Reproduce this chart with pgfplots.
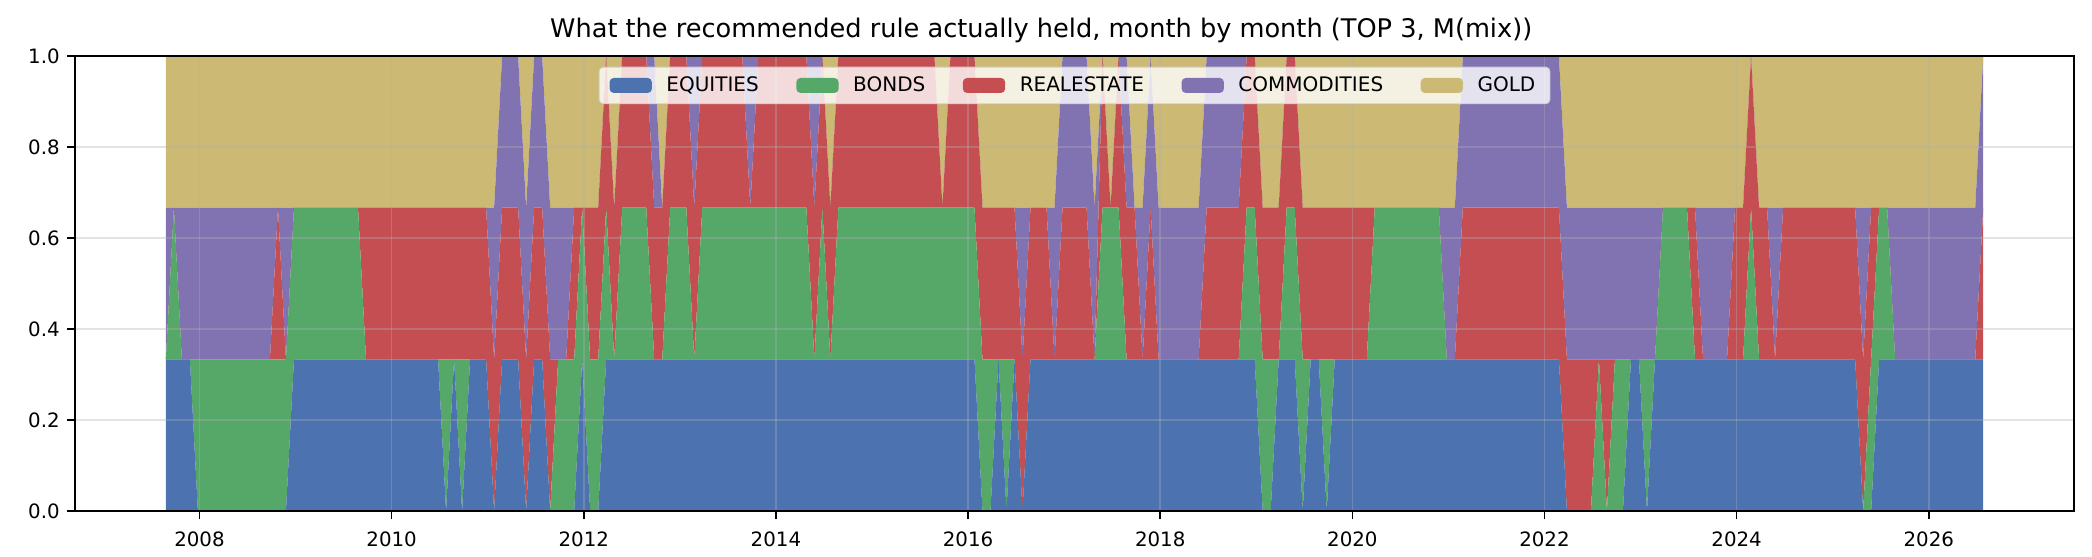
\documentclass[border=0pt]{standalone}
\usepackage{fontspec}
\setmainfont{DejaVu Sans}
\usepackage{pgfplots}
\usepackage{pgfplotstable}
\pgfplotsset{compat=1.18}
\definecolor{cE}{HTML}{4C72B0}
\definecolor{cB}{HTML}{55A868}
\definecolor{cR}{HTML}{C44E52}
\definecolor{cC}{HTML}{8172B2}
\definecolor{cG}{HTML}{CCB974}
\definecolor{gridc}{HTML}{B0B0B0}
% month index k (0 = Aug 2007), weights of each asset (1/3 when held)
\pgfplotstableread{
k E B R C G
0 0.3333 0 0 0.3333 0.3333
1 0.3333 0.3333 0 0 0.3333
2 0.3333 0 0 0.3333 0.3333
3 0.3333 0 0 0.3333 0.3333
4 0 0.3333 0 0.3333 0.3333
13 0 0.3333 0 0.3333 0.3333
14 0 0.3333 0.3333 0 0.3333
15 0 0.3333 0 0.3333 0.3333
16 0.3333 0.3333 0 0 0.3333
24 0.3333 0.3333 0 0 0.3333
25 0.3333 0 0.3333 0 0.3333
34 0.3333 0 0.3333 0 0.3333
35 0 0.3333 0.3333 0 0.3333
36 0.3333 0 0.3333 0 0.3333
37 0 0.3333 0.3333 0 0.3333
38 0.3333 0 0.3333 0 0.3333
40 0.3333 0 0.3333 0 0.3333
41 0 0 0.3333 0.3333 0.3333
42 0.3333 0 0.3333 0.3333 0
44 0.3333 0 0.3333 0.3333 0
45 0 0 0.3333 0.3333 0.3333
46 0.3333 0 0.3333 0.3333 0
47 0.3333 0 0.3333 0.3333 0
48 0 0 0.3333 0.3333 0.3333
49 0 0.3333 0 0.3333 0.3333
50 0 0.3333 0 0.3333 0.3333
51 0 0.3333 0.3333 0 0.3333
52 0.3333 0.3333 0 0 0.3333
53 0 0.3333 0.3333 0 0.3333
54 0 0.3333 0.3333 0 0.3333
55 0.3333 0.3333 0.3333 0 0
56 0.3333 0 0.3333 0 0.3333
57 0.3333 0.3333 0.3333 0 0
60 0.3333 0.3333 0.3333 0 0
61 0.3333 0 0.3333 0.3333 0
62 0.3333 0 0.3333 0 0.3333
63 0.3333 0.3333 0.3333 0 0
65 0.3333 0.3333 0.3333 0 0
66 0.3333 0 0.3333 0.3333 0
67 0.3333 0.3333 0.3333 0 0
72 0.3333 0.3333 0.3333 0 0
73 0.3333 0.3333 0 0.3333 0
74 0.3333 0.3333 0.3333 0 0
80 0.3333 0.3333 0.3333 0 0
81 0.3333 0 0.3333 0.3333 0
82 0.3333 0.3333 0.3333 0 0
83 0.3333 0 0.3333 0 0.3333
84 0.3333 0.3333 0.3333 0 0
96 0.3333 0.3333 0.3333 0 0
97 0.3333 0.3333 0 0 0.3333
98 0.3333 0.3333 0.3333 0 0
101 0.3333 0.3333 0.3333 0 0
102 0 0.3333 0.3333 0 0.3333
103 0 0.3333 0.3333 0 0.3333
104 0.3333 0 0.3333 0 0.3333
105 0 0.3333 0.3333 0 0.3333
106 0.3333 0 0.3333 0 0.3333
107 0 0 0.3333 0.3333 0.3333
108 0.3333 0 0.3333 0 0.3333
110 0.3333 0 0.3333 0 0.3333
111 0.3333 0 0 0.3333 0.3333
112 0.3333 0 0.3333 0.3333 0
115 0.3333 0 0.3333 0.3333 0
116 0.3333 0 0 0.3333 0.3333
117 0.3333 0.3333 0.3333 0 0
118 0.3333 0.3333 0 0 0.3333
119 0.3333 0.3333 0.3333 0 0
120 0.3333 0 0.3333 0.3333 0
121 0.3333 0 0.3333 0 0.3333
122 0.3333 0 0 0.3333 0.3333
123 0.3333 0 0.3333 0.3333 0
124 0.3333 0 0 0.3333 0.3333
129 0.3333 0 0 0.3333 0.3333
130 0.3333 0 0.3333 0.3333 0
134 0.3333 0 0.3333 0.3333 0
135 0.3333 0.3333 0.3333 0 0
136 0.3333 0.3333 0.3333 0 0
137 0 0.3333 0.3333 0 0.3333
138 0 0.3333 0.3333 0 0.3333
139 0.3333 0 0.3333 0 0.3333
140 0.3333 0.3333 0.3333 0 0
141 0.3333 0.3333 0.3333 0 0
142 0 0.3333 0.3333 0 0.3333
143 0.3333 0 0.3333 0 0.3333
144 0.3333 0 0.3333 0 0.3333
145 0 0.3333 0.3333 0 0.3333
146 0.3333 0 0.3333 0 0.3333
150 0.3333 0 0.3333 0 0.3333
151 0.3333 0.3333 0 0 0.3333
159 0.3333 0.3333 0 0 0.3333
160 0.3333 0 0 0.3333 0.3333
161 0.3333 0 0 0.3333 0.3333
162 0.3333 0 0.3333 0.3333 0
174 0.3333 0 0.3333 0.3333 0
175 0 0 0.3333 0.3333 0.3333
178 0 0 0.3333 0.3333 0.3333
179 0 0.3333 0 0.3333 0.3333
180 0 0 0.3333 0.3333 0.3333
181 0 0.3333 0 0.3333 0.3333
182 0 0.3333 0 0.3333 0.3333
183 0.3333 0 0 0.3333 0.3333
184 0.3333 0 0 0.3333 0.3333
185 0 0.3333 0 0.3333 0.3333
186 0.3333 0 0 0.3333 0.3333
187 0.3333 0.3333 0 0 0.3333
190 0.3333 0.3333 0 0 0.3333
191 0.3333 0 0.3333 0 0.3333
192 0.3333 0 0 0.3333 0.3333
195 0.3333 0 0 0.3333 0.3333
196 0.3333 0 0.3333 0 0.3333
197 0.3333 0 0.3333 0 0.3333
198 0.3333 0.3333 0.3333 0 0
199 0.3333 0 0.3333 0 0.3333
200 0.3333 0 0.3333 0 0.3333
201 0.3333 0 0 0.3333 0.3333
202 0.3333 0 0.3333 0 0.3333
211 0.3333 0 0.3333 0 0.3333
212 0 0 0.3333 0.3333 0.3333
213 0 0.3333 0.3333 0 0.3333
214 0.3333 0.3333 0 0 0.3333
215 0.3333 0.3333 0 0 0.3333
216 0.3333 0 0 0.3333 0.3333
226 0.3333 0 0 0.3333 0.3333
227 0.3333 0 0.3333 0.3333 0
}\holdings

\pgfplotsset{every axis title/.style={at={(0.5,1)}, anchor=base, xshift=-16pt, yshift=8.9pt, inner sep=0pt,
  font=\fontsize{12.3}{15}\selectfont}}

\begin{document}
\begin{tikzpicture}
\begin{axis}[
  at={(0,0)}, anchor=south west,
  width=959.5pt, height=218.4pt, scale only axis,
  xmin=-11.35, xmax=238.35, ymin=0, ymax=1,
  stack plots=y,
  axis on top,
  axis line style={black, line width=0.8pt},
  xtick={4.2,28.2,52.2,76.2,100.2,124.2,148.2,172.2,196.2,220.2},
  xticklabels={2008,2010,2012,2014,2016,2018,2020,2022,2024,2026},
  ytick={0,0.2,0.4,0.6,0.8,1.0},
  yticklabels={0.0,0.2,0.4,0.6,0.8,1.0},
  tick align=outside, tick pos=left,
  major tick length=3.8pt,
  tick style={black, line width=0.8pt},
  ticklabel style={font=\fontsize{9.5}{11}\selectfont},
  xticklabel style={yshift=-2.5pt},
  /pgf/number format/assume math mode=true,
  grid=major,
  major grid style={gridc, opacity=0.35, line width=0.7pt},
  title={What the recommended rule actually held, month by month (TOP 3, M(mix))},
  legend columns=5,
  legend cell align=left,
  legend image code/.code={\path[#1, fill opacity=1] (0pt,-3.6pt) rectangle (20.3pt,3.6pt);},
  legend style={at={(0.5,0.9766)}, anchor=north,
    font=\fontsize{9.6}{11}\selectfont,
    fill=white, fill opacity=0.8, text opacity=1,
    draw={rgb,255:red,204;green,204;blue,204}, rounded corners=2pt,
    inner xsep=5pt, inner ysep=2.5pt,
    /tikz/every odd column/.append style={column sep=5pt},
    /tikz/every even column/.append style={column sep=16pt}},
]
\addplot[fill=cE, draw=none] table[x=k, y=E]{\holdings} \closedcycle;
\addlegendentry{EQUITIES}
\addplot[fill=cB, draw=none] table[x=k, y=B]{\holdings} \closedcycle;
\addlegendentry{BONDS}
\addplot[fill=cR, draw=none] table[x=k, y=R]{\holdings} \closedcycle;
\addlegendentry{REALESTATE}
\addplot[fill=cC, draw=none] table[x=k, y=C]{\holdings} \closedcycle;
\addlegendentry{COMMODITIES}
\addplot[fill=cG, draw=none] table[x=k, y=G]{\holdings} \closedcycle;
\addlegendentry{GOLD}
\end{axis}
\pgfresetboundingbox
\path[use as bounding box] (-36pt,-21.6pt) rectangle (968.1pt,245.3pt);
\end{tikzpicture}
\end{document}
